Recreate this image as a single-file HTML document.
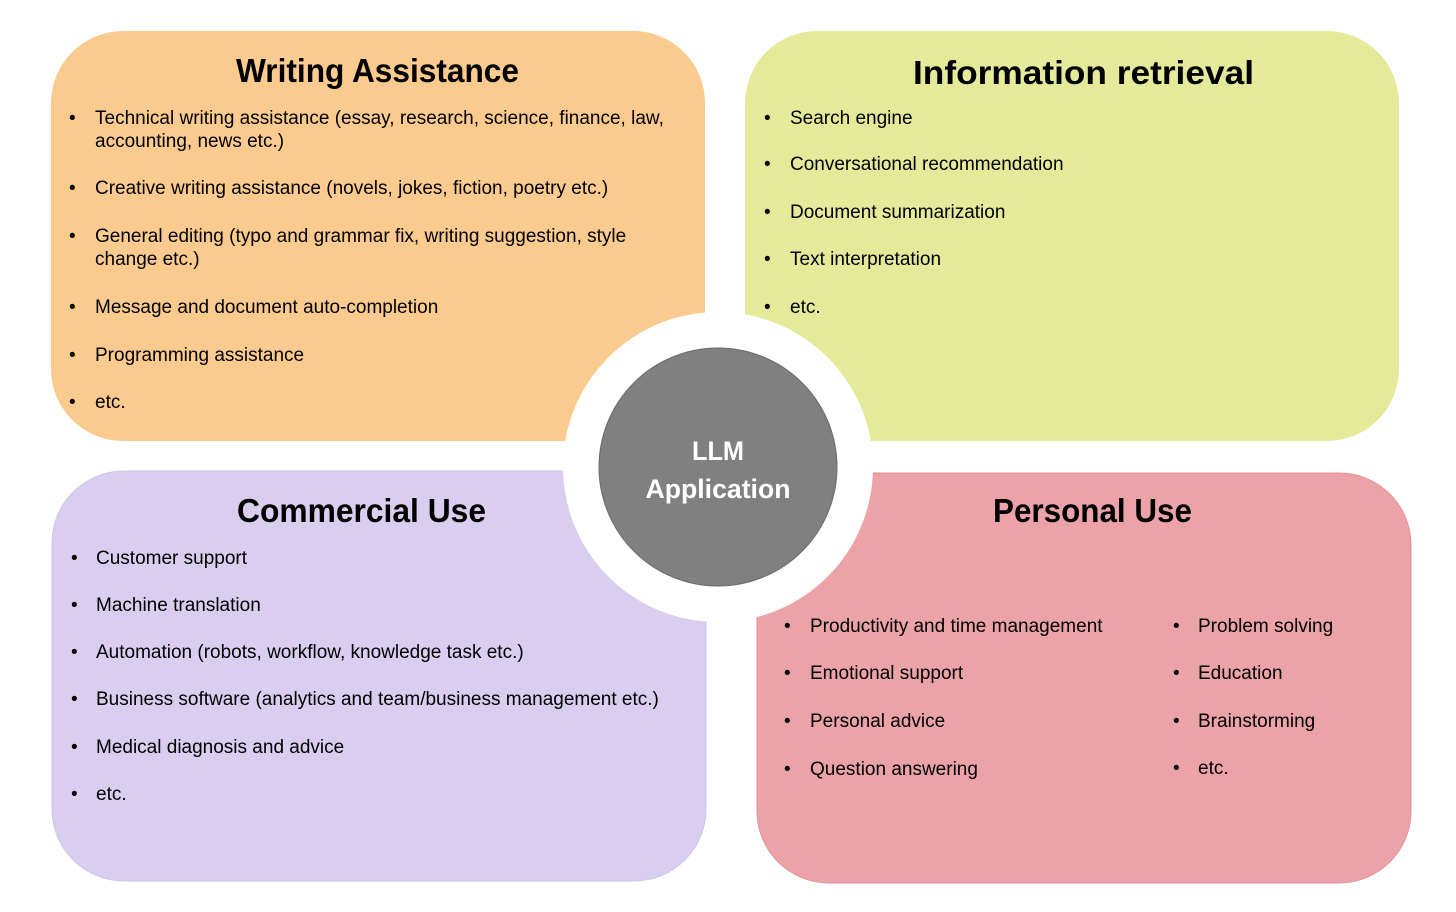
<!DOCTYPE html>
<html><head><meta charset="utf-8"><style>
body{margin:0;background:#fff}
svg{display:block}
.t{font-family:"Liberation Sans",Arial,sans-serif;font-size:19px;fill:#000}
.h{font-family:"Liberation Sans",Arial,sans-serif;font-weight:bold;font-size:33px;fill:#000}
</style></head><body>
<svg width="1456" height="912" viewBox="0 0 1456 912" xmlns="http://www.w3.org/2000/svg">
<rect x="51" y="31" width="654" height="410" rx="72" fill="#FBCA8E"/>
<rect x="745" y="31" width="654" height="410" rx="72" fill="#E5EA9A"/>
<rect x="52" y="471" width="654" height="410" rx="72" fill="#D9CEEF" stroke="#cfc3ec"/>
<rect x="757" y="473" width="654" height="410" rx="72" fill="#EBA3A7" stroke="#e29297"/>
<circle cx="718" cy="467" r="155" fill="#fff"/>
<circle cx="718" cy="467" r="119" fill="#808080" stroke="#6a6a6a"/>
<text x="718" y="460" text-anchor="middle" font-family="Liberation Sans,sans-serif" font-weight="bold" font-size="27" fill="#fff" textLength="52" lengthAdjust="spacingAndGlyphs">LLM</text>
<text x="718" y="498" text-anchor="middle" font-family="Liberation Sans,sans-serif" font-weight="bold" font-size="27" fill="#fff" textLength="145" lengthAdjust="spacingAndGlyphs">Application</text>

<text class="h" x="236" y="82" textLength="283" lengthAdjust="spacingAndGlyphs">Writing Assistance</text>
<g class="t">
<text x="69" y="124">•</text><text x="95" y="124">Technical writing assistance (essay, research, science, finance, law,</text>
<text x="95" y="147">accounting, news etc.)</text>
<text x="69" y="194">•</text><text x="95" y="194">Creative writing assistance (novels, jokes, fiction, poetry etc.)</text>
<text x="69" y="242">•</text><text x="95" y="242">General editing (typo and grammar fix, writing suggestion, style</text>
<text x="95" y="265">change etc.)</text>
<text x="69" y="313">•</text><text x="95" y="313">Message and document auto-completion</text>
<text x="69" y="361">•</text><text x="95" y="361">Programming assistance</text>
<text x="69" y="408">•</text><text x="95" y="408">etc.</text>
</g>

<text class="h" x="913" y="84" textLength="341" lengthAdjust="spacingAndGlyphs">Information retrieval</text>
<g class="t">
<text x="764" y="124">•</text><text x="790" y="124">Search engine</text>
<text x="764" y="170">•</text><text x="790" y="170">Conversational recommendation</text>
<text x="764" y="218">•</text><text x="790" y="218">Document summarization</text>
<text x="764" y="265">•</text><text x="790" y="265">Text interpretation</text>
<text x="764" y="313">•</text><text x="790" y="313">etc.</text>
</g>

<text class="h" x="237" y="522" textLength="249" lengthAdjust="spacingAndGlyphs">Commercial Use</text>
<g class="t">
<text x="71" y="564">•</text><text x="96" y="564">Customer support</text>
<text x="71" y="611">•</text><text x="96" y="611">Machine translation</text>
<text x="71" y="658">•</text><text x="96" y="658">Automation (robots, workflow, knowledge task etc.)</text>
<text x="71" y="705">•</text><text x="96" y="705">Business software (analytics and team/business management etc.)</text>
<text x="71" y="753">•</text><text x="96" y="753">Medical diagnosis and advice</text>
<text x="71" y="800">•</text><text x="96" y="800">etc.</text>
</g>

<text class="h" x="993" y="522" textLength="199" lengthAdjust="spacingAndGlyphs">Personal Use</text>
<g class="t">
<text x="784" y="632">•</text><text x="810" y="632">Productivity and time management</text>
<text x="784" y="679">•</text><text x="810" y="679">Emotional support</text>
<text x="784" y="727">•</text><text x="810" y="727">Personal advice</text>
<text x="784" y="775">•</text><text x="810" y="775">Question answering</text>
<text x="1173" y="632">•</text><text x="1198" y="632">Problem solving</text>
<text x="1173" y="679">•</text><text x="1198" y="679">Education</text>
<text x="1173" y="727">•</text><text x="1198" y="727">Brainstorming</text>
<text x="1173" y="774">•</text><text x="1198" y="774">etc.</text>
</g>
</svg>
</body></html>
